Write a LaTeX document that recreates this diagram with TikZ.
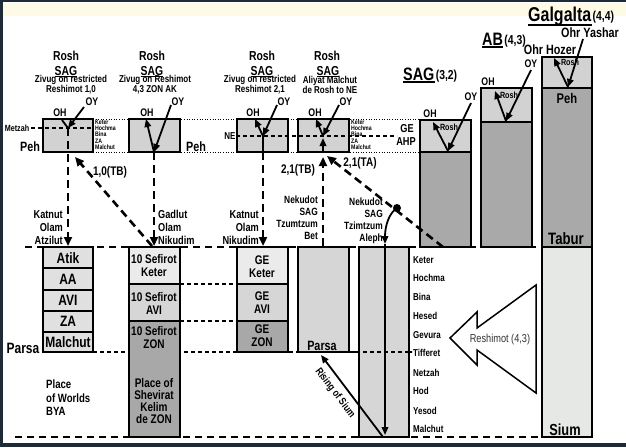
\documentclass[tikz,border=0pt]{standalone}
\usepackage{fontspec}
\setmainfont{Liberation Sans}[FakeStretch=0.8]
\usetikzlibrary{arrows.meta}
\newcommand\fsz[2]{\fontsize{#1}{#2}\selectfont}
\definecolor{roshgray}{HTML}{D2D2D2}
\definecolor{bodygray}{HTML}{A9A9A9}
\definecolor{palegray}{HTML}{E6E8E6}
\definecolor{keterfill}{HTML}{EBEBEB}
\definecolor{avifill}{HTML}{D6D6D6}
\definecolor{zonfill}{HTML}{A8A8A8}
\definecolor{atzfill}{HTML}{E0E0E0}
\definecolor{colfill}{HTML}{D6D6D6}
\definecolor{cream}{HTML}{FDFBE6}
\definecolor{framec}{HTML}{1E2A36}
\definecolor{reshc}{HTML}{333333}
\begin{document}
\begin{tikzpicture}[x=1pt,y=-1pt,
  box/.style={draw=black,line width=1.8pt},
  lb/.style={inner sep=0pt},
  hd/.style={lb,font=\bfseries\fsz{13}{13}},
  zv/.style={lb,font=\bfseries\fsz{10}{10},align=center},
  ohy/.style={lb,font=\bfseries\fsz{11}{11}},
  tiny/.style={lb,font=\bfseries\fsz{6.5}{6.3},align=left},
  med/.style={lb,font=\bfseries\fsz{11.5}{13}},
  nek/.style={lb,font=\bfseries\fsz{10.5}{12}},
  cnt/.style={lb,font=\bfseries\fsz{12.5}{12.5}},
  bx/.style={lb,font=\bfseries\fsz{15}{15}},
  sef/.style={lb,font=\bfseries\fsz{12.5}{13},align=center},
  side/.style={lb,font=\bfseries\fsz{10}{10},anchor=west},
  rsm/.style={lb,font=\bfseries\fsz{9}{9}},
  ul/.style={line width=1.3pt},
  arrtip/.style={-{Triangle[length=8pt,width=6.5pt]}},
  ray/.style={line width=1.8pt,arrtip},
  dray/.style={line width=2.6pt,dash pattern=on 8pt off 5pt,-{Triangle[length=9pt,width=8pt]}},
  bigdash/.style={line width=2pt,dash pattern=on 7pt off 5pt},
  thindash/.style={line width=1.1pt,dash pattern=on 4pt off 3pt},
  dotl/.style={line width=0.9pt,dash pattern=on 1pt off 1.6pt},
]
% background and frame
\fill[white] (0,0) rectangle (626,447);
\useasboundingbox (0,0) rectangle (626,447);
\fill[cream] (3,3) rectangle (626,16);
\fill[framec] (0,0) rectangle (626,2.2);
\fill[framec] (0,0) rectangle (2.5,447);
\fill[framec] (0,442.5) rectangle (626,447);

% background guide lines
\draw[bigdash] (25,247) -- (542,247);
\draw[bigdash] (15,437) -- (542,437);
\draw[thindash] (93,352) -- (412,352);
\draw[thindash] (180,284) -- (237,284);
\draw[thindash] (180,321) -- (237,321);
\draw[dotl] (93,119) -- (420,119);
\draw[dotl] (93,152) -- (420,152);

% upper rosh boxes
\draw[box,fill=roshgray] (43,119) rectangle (93,152);
\draw[box,fill=roshgray] (129,119) rectangle (180,152);
\draw[box,fill=roshgray] (237,119) rectangle (288,152);
\draw[box,fill=roshgray] (298,119) rectangle (349,152);
\draw[thindash] (31,128) -- (93,128);
\draw[thindash] (236,136) -- (397,136);

% SAG, AB, Galgalta
\draw[box,fill=roshgray] (420,120) rectangle (471,152);
\draw[box,fill=bodygray] (420,152) rectangle (471,247);
\draw[box,fill=roshgray] (481,88) rectangle (532,122);
\draw[box,fill=bodygray] (481,122) rectangle (532,247);
\draw[box,fill=roshgray] (542,57) rectangle (592,88);
\draw[box,fill=bodygray] (542,88) rectangle (592,247);
\draw[box,fill=palegray] (542,247) rectangle (592,437);

% Atzilut stack
\draw[box,fill=atzfill] (43,247) rectangle (93,268);
\draw[box,fill=atzfill] (43,268) rectangle (93,290);
\draw[box,fill=atzfill] (43,290) rectangle (93,311);
\draw[box,fill=atzfill] (43,311) rectangle (93,332);
\draw[box,fill=atzfill] (43,332) rectangle (93,352);
% 10 Sefirot column
\draw[box,fill=keterfill] (129,247) rectangle (180,284);
\draw[box,fill=avifill] (129,284) rectangle (180,321);
\draw[box,fill=zonfill] (129,321) rectangle (180,437);
% GE column
\draw[box,fill=keterfill] (237,247) rectangle (288,284);
\draw[box,fill=avifill] (237,284) rectangle (288,321);
\draw[box,fill=zonfill] (237,321) rectangle (288,352);
% Parsa box and tall column
\draw[box,fill=colfill] (298,247) rectangle (349,352);
\draw[box,fill=colfill] (359,247) rectangle (409,437);
\draw[thindash] (349,352) -- (412,352);

% big outline arrow
\draw[line width=1.5pt,fill=white,line join=miter] (450,338) -- (477,312) -- (477,328) -- (536,285) -- (536,393) -- (477,350) -- (477,365) -- cycle;
\node[lb,font=\fsz{11.5}{11.5},text=reshc] (resh) at (500,340) {Reshimot (4,3)};

% named points
\coordinate (oy1) at (84,107); \coordinate (z1) at (68,128); \coordinate (oh1) at (62,120); \coordinate (atz) at (68,246);
\coordinate (oy2) at (171,105); \coordinate (z2) at (154,152); \coordinate (oh2) at (146,119); \coordinate (nik) at (154,246);
\coordinate (oy3) at (277,105); \coordinate (z3) at (263,136); \coordinate (oh3) at (255,119); \coordinate (p3) at (263,152); \coordinate (ge) at (263,246);
\coordinate (oy4) at (339,105); \coordinate (z4) at (323,136); \coordinate (oh4) at (316,119); \coordinate (p4) at (323,152); \coordinate (b4) at (323,157); \coordinate (pa) at (323,246);
\coordinate (ket) at (152,246); \coordinate (b1) at (75,157);
\coordinate (sagb) at (443,247); \coordinate (b4r) at (327,156);
\coordinate (dot) at (397,208); \coordinate (altop) at (385,244); \coordinate (albot) at (385,435);
\coordinate (sium) at (383,437); \coordinate (parsab) at (321,355);

% box 1 rays
\draw[ray] (oy1) -- (z1);
\draw[line width=1.8pt] (z1) -- (oh1);
\draw[dray] (z1) -- (atz);
% box 2 rays
\draw[ray] (oy2) -- (z2);
\draw[ray] (z2) -- (oh2);
\draw[dray] (z2) -- (nik);
% box 3 rays
\draw[ray] (oy3) -- (z3);
\draw[ray] (z3) -- (oh3);
\draw[line width=2.2pt] (z3) -- (p3);
\draw[dray] (p3) -- (ge);
% box 4 rays
\draw[ray] (oy4) -- (z4);
\draw[ray] (z4) -- (oh4);
\draw[ray] (p4) -- ([yshift=-2pt]z4);
\draw[dray] (pa) -- (b4);
% diagonal reshimot
\draw[dray] (ket) -- (b1);
\draw[dray] (sagb) -- (b4r);
\fill (dot) circle (4);
\draw[ray] (dot) .. controls (389,213) and (385,226) .. (altop);
\draw[ray] (altop) -- (albot);
\draw[ray] (sium) -- (parsab);

% SAG / AB / Galgalta rays
\draw[ray] (471,103) -- (448,151);
\draw[ray] (448,151) -- (433,122);
\draw[ray] (531,70) -- (506,121);
\draw[ray] (506,121) -- (495,91);
\draw[ray] (583,39) -- (568,87);
\draw[ray] (568,87) -- (554,58);

% top labels
\node[hd] (r1) at (66,56) {Rosh};
\node[hd,anchor=base] (s1) at (66,75) {SAG};
\draw[ul] ([yshift=-1.8pt]s1.base west) -- ([yshift=-1.8pt]s1.base east);
\node[zv] (zv1) at (71,85) {Zivug on restricted\\Reshimot 1,0};
\node[hd] (r2) at (152,56) {Rosh};
\node[hd,anchor=base] (s2) at (152,75) {SAG};
\draw[ul] ([yshift=-1.8pt]s2.base west) -- ([yshift=-1.8pt]s2.base east);
\node[zv] (zv2) at (155,85) {Zivug on Reshimot\\4,3 ZON AK};
\node[hd] (r3) at (262,56) {Rosh};
\node[hd,anchor=base] (s3) at (262,75) {SAG};
\draw[ul] ([yshift=-1.8pt]s3.base west) -- ([yshift=-1.8pt]s3.base east);
\node[zv] (zv3) at (260,85) {Zivug on restricted\\Reshimot 2,1};
\node[hd] (r4) at (327,56) {Rosh};
\node[hd,anchor=base] (s4) at (328,75) {SAG};
\draw[ul] ([yshift=-1.8pt]s4.base west) -- ([yshift=-1.8pt]s4.base east);
\node[zv] (zv4) at (330,85) {Aliyat Malchut\\de Rosh to NE};

% OH / OY labels
\node[ohy] (toh1) at (60,113) {OH};
\node[ohy] (toy1) at (92,102) {OY};
\node[ohy] (toh2) at (147,113) {OH};
\node[ohy] (toy2) at (178,102) {OY};
\node[ohy] (toh3) at (253,113) {OH};
\node[ohy] (toy3) at (284,102) {OY};
\node[ohy] (toh4) at (315,113) {OH};
\node[ohy] (toy4) at (346,102) {OY};
\node[ohy] (toh5) at (430,114) {OH};
\node[ohy] (toy5) at (471,97) {OY};
\node[ohy] (toh6) at (488,82) {OH};
\node[ohy] (toy6) at (531,64) {OY};
\node[lb,font=\bfseries\fsz{13.5}{13.5}] (ohz) at (550,50) {Ohr Hozer};
\node[lb,font=\bfseries\fsz{13.5}{13.5}] (ohy) at (590,33) {Ohr Yashar};

% small labels at the roshim
\node[lb,font=\bfseries\fsz{9}{9}] (metz) at (17,128) {Metzah};
\node[lb,font=\bfseries\fsz{13.5}{13.5}] (peh1) at (30,147) {Peh};
\node[lb,font=\bfseries\fsz{13.5}{13.5}] (peh2) at (196,147) {Peh};
\node[tiny,anchor=north west] (sf1) at (95,119.5) {Keter\\Hochma\\Bina\\ZA\\Malchut};
\node[tiny,anchor=north west] (sf4) at (351,119.5) {Keter\\Hochma\\Bina\\ZA\\Malchut};
\node[lb,font=\bfseries\fsz{10}{10}] (ne) at (230,136) {NE};
\node[lb,font=\bfseries\fsz{11.5}{11.5}] (gel) at (407,129) {GE};
\node[lb,font=\bfseries\fsz{11.5}{11.5}] (ahp) at (406,142) {AHP};
\node[rsm] (rs5) at (449,127) {Rosh};
\node[rsm] (rs6) at (509,95) {Rosh};
\node[rsm] (rs7) at (570,62) {Rosh};
\node[lb,font=\bfseries\fsz{14}{14}] (peh7) at (567,98) {Peh};
\node[lb,font=\bfseries\fsz{16.5}{16.5}] (tabur) at (566,239) {Tabur};
\node[lb,font=\bfseries\fsz{16}{16}] (siumt) at (565,430) {Sium};

% titles
\node[lb,font=\bfseries\fsz{18}{18},anchor=base west] (tsag) at (403,80) {SAG};
\draw[ul] ([yshift=-2pt]tsag.base west) -- ([yshift=-2pt]tsag.base east);
\node[lb,font=\bfseries\fsz{13}{13},anchor=base west] (tsagn) at ([yshift=1pt,xshift=1pt]tsag.base east) {(3,2)};
\node[lb,font=\bfseries\fsz{18}{18},anchor=base west] (tab) at (482,45) {AB};
\draw[ul] ([yshift=-2pt]tab.base west) -- ([yshift=-2pt]tab.base east);
\node[lb,font=\bfseries\fsz{13}{13},anchor=base west] (tabn) at ([yshift=1pt,xshift=1pt]tab.base east) {(4,3)};
\node[lb,font=\bfseries\fsz{20}{20},anchor=base west] (tgal) at (528,21) {Galgalta};
\draw[ul] ([yshift=-4pt]tgal.base west) -- ([yshift=-4pt]tgal.base east);
\node[lb,font=\bfseries\fsz{13}{13},anchor=base west] (tgaln) at ([yshift=1pt,xshift=1pt]tgal.base east) {(4,4)};

% middle labels
\node[med,anchor=east,align=right] (kat1) at (63,228) {Katnut\\Olam\\Atzilut};
\node[med,anchor=west,align=left] (gad) at (158,227) {Gadlut\\Olam\\Nikudim};
\node[med,anchor=east,align=right] (kat2) at (259,228) {Katnut\\Olam\\Nikudim};
\node[cnt] (tb10) at (110,172) {1,0(TB)};
\node[cnt] (tb21) at (298,170) {2,1(TB)};
\node[cnt] (ta21) at (360,163) {2,1(TA)};
\node[nek,anchor=east,align=right] (nekb) at (318,218) {Nekudot\\SAG\\Tzumtzum\\Bet};
\node[nek,anchor=east,align=right] (neka) at (383,221) {Nekudot\\SAG\\Tzimtzum\\Aleph};

% box labels
\node[bx] (atik) at (68,258) {Atik};
\node[bx] (aa) at (68,279) {AA};
\node[bx] (avi) at (68,300) {AVI};
\node[bx] (za) at (68,321) {ZA};
\node[bx] (mal) at (68,342) {Malchut};
\node[sef] (sk) at (154,266) {10 Sefirot\\Keter};
\node[sef] (sa) at (154,303) {10 Sefirot\\AVI};
\node[sef] (sz) at (154,338) {10 Sefirot\\ZON};
\node[sef,font=\bfseries\fsz{12.5}{12}] (shev) at (154,401) {Place of\\Shevirat\\Kelim\\de ZON};
\node[sef] (gk) at (262,267) {GE\\Keter};
\node[sef] (ga) at (262,303) {GE\\AVI};
\node[sef] (gz) at (262,336) {GE\\ZON};
\node[lb,font=\bfseries\fsz{13.5}{13.5}] (parsa1) at (322,346) {Parsa};
\node[lb,font=\bfseries\fsz{15}{15}] (parsa2) at (23,348) {Parsa};
\node[lb,font=\bfseries\fsz{12}{13.5},anchor=west,align=left] (bya) at (46,398) {Place\\of Worlds\\BYA};
\node[lb,font=\bfseries\fsz{10.5}{10.5},rotate=-52.7] (rising) at (335,393) {Rising of Sium};

% sefirot on the right of the column
\node[side] (k1) at (413,260) {Keter};
\node[side] (k2) at (413,278) {Hochma};
\node[side] (k3) at (413,297) {Bina};
\node[side] (k4) at (413,316) {Hesed};
\node[side] (k5) at (413,335) {Gevura};
\node[side] (k6) at (413,353) {Tifferet};
\node[side] (k7) at (413,373) {Netzah};
\node[side] (k8) at (413,391) {Hod};
\node[side] (k9) at (413,411) {Yesod};
\node[side] (k10) at (413,429) {Malchut};
\end{tikzpicture}
\end{document}
